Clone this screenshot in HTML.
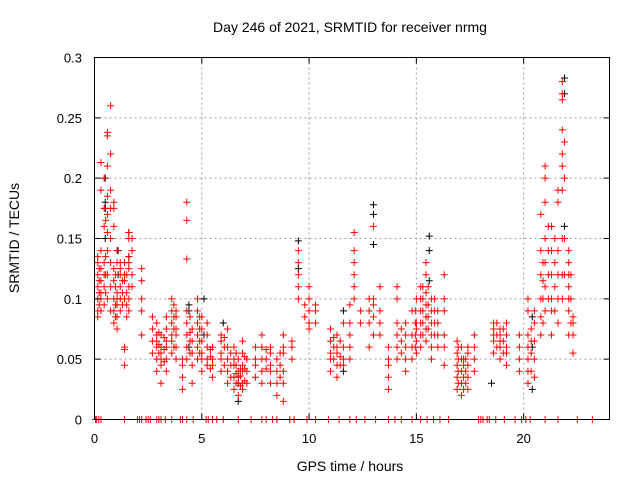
<!DOCTYPE html>
<html><head><meta charset="utf-8"><style>
html,body{margin:0;padding:0;background:#fff;}
svg{display:block;font-family:"Liberation Sans",sans-serif;}
</style></head><body>
<svg id="chart" width="640" height="480" viewBox="0 0 640 480">
<g id="grid"></g>
<g id="marks"></g>
<rect x="94.5" y="57.5" width="515" height="362" fill="none" stroke="#000" stroke-width="1"/>
<g id="axes"></g>
<text x="350" y="32" font-size="14" text-anchor="middle">Day 246 of 2021, SRMTID for receiver nrmg</text>
<text x="350" y="471" font-size="14" text-anchor="middle">GPS time / hours</text>
<text transform="translate(19,238) rotate(-90)" font-size="14" text-anchor="middle">SRMTID / TECUs</text>
</svg>
<script>
const xTicks=[0,5,10,15,20];
const yTicks=[0,0.05,0.1,0.15,0.2,0.25,0.3];
const yTickLabels=["0","0.05","0.1","0.15","0.2","0.25","0.3"];
const redTimes=[0.15,0.3,0.45,0.6,0.75,0.9,1.05,1.2,1.4,1.6,1.75,2.2,2.7,2.9,3.1,3.35,3.6,3.8,4.1,4.3,4.55,4.8,5.0,5.25,5.5,5.9,6.2,6.5,6.7,6.9,7.1,7.5,7.8,8.2,8.5,8.8,9.2,9.5,9.8,10.0,10.3,11.0,11.3,11.6,11.9,12.1,12.4,12.8,13.0,13.3,13.7,14.1,14.5,14.8,15.0,15.2,15.45,15.7,16.0,16.3,16.9,17.1,17.4,17.7,18.6,18.9,19.2,19.8,20.2,20.5,20.8,21.0,21.3,21.6,21.8,22.1,22.3,
0.22,0.52,0.98,1.3,1.5,3.0,3.25,3.7,4.45,4.9,5.4,6.05,6.35,6.6,6.8,7.0,8.0,8.65,11.15,11.45,14.3,14.95,15.3,15.55,15.85,16.95,17.2,17.3,18.75,19.05,20.35,20.9,21.15,21.45,21.9,22.2];
const redValues=[
[.085,.09,.10,.11,.12,.13,.135],
[.09,.10,.105,.115,.125,.14,.19,.213],
[.095,.11,.12,.13,.16,.175,.20],
[.10,.12,.14,.155,.17,.185,.21,.235,.238],
[.09,.11,.13,.15,.175,.19,.22,.26],
[.08,.09,.10,.115,.125,.16,.175,.18],
[.075,.085,.095,.10,.105,.13,.14],
[.09,.10,.11,.12,.125,.13],
[.045,.058,.06,.10,.115,.12,.13],
[.09,.10,.11,.125,.13,.135,.15,.155],
[.11,.12,.14,.15],
[.07,.09,.10,.115,.125],
[.055,.065,.075,.085],
[.04,.05,.06,.065,.07,.08],
[.03,.045,.05,.055,.06,.07],
[.04,.05,.06,.065,.075,.085],
[.055,.065,.07,.08,.09,.10],
[.05,.06,.07,.075,.085,.09],
[.025,.035,.045,.05],
[.05,.06,.07,.08,.09,.133,.165,.18],
[.03,.045,.055,.065,.075],
[.05,.06,.07,.08,.09,.10],
[.04,.05,.055,.065,.075,.085],
[.045,.05,.06,.07,.08],
[.035,.045,.05,.06],
[.04,.05,.055,.065,.07],
[.03,.04,.05,.06,.075],
[.025,.035,.045,.05,.06],
[.02,.03,.035,.04,.05],
[.025,.03,.04,.045,.055,.065],
[.03,.04,.05],
[.035,.045,.05,.06],
[.03,.04,.05,.06,.07],
[.03,.04,.045,.055,.06],
[.02,.03,.04,.05],
[.015,.03,.04,.055,.06,.07],
[.05,.06,.065],
[.10,.11,.12,.13,.14],
[.085,.095],
[.075,.08,.09,.10,.11],
[.08,.09,.095],
[.04,.05,.055,.065,.075],
[.035,.045,.055,.06,.07],
[.045,.05,.06,.08],
[.05,.06,.07,.08,.095],
[.10,.11,.12,.13,.14,.155],
[.08,.09],
[.06,.08,.09,.10],
[.07,.085,.095,.10,.16],
[.07,.08,.09,.11],
[.025,.035,.045,.05,.06],
[.05,.06,.07,.08,.10,.11],
[.04,.05,.06,.07,.08],
[.05,.06,.07,.09],
[.055,.065,.075,.08,.10],
[.06,.07,.08,.09,.10,.11],
[.065,.075,.085,.095,.105,.12,.13],
[.05,.06,.07,.08,.09,.10],
[.06,.07,.08,.09],
[.045,.06,.07,.09,.10,.12],
[.025,.035,.045,.055,.065],
[.02,.03,.04,.05,.06],
[.025,.035,.045,.055,.06],
[.04,.05,.06,.07],
[.055,.065,.07,.075,.08],
[.05,.06,.065,.07,.075],
[.045,.055,.06,.07,.08],
[.04,.05,.06,.07],
[.03,.04,.05,.06,.07,.09,.10],
[.035,.05,.065,.08,.09],
[.07,.085,.10,.12,.14,.17],
[.09,.11,.13,.15,.18,.20,.21],
[.07,.09,.10,.12,.14,.16],
[.08,.10,.12,.14,.18,.19],
[.10,.12,.15,.19,.21,.22,.24,.265,.27,.28],
[.07,.09,.10,.11,.12,.13,.14],
[.055,.07,.08,.085],
[.095,.105,.115,.125],
[.105,.12,.135,.165],
[.085,.095,.11,.12],
[.095,.105,.115],
[.085,.095,.105,.12],
[.055,.062,.072],
[.048,.058,.068],
[.06,.075,.085,.095],
[.055,.065,.072,.085],
[.055,.065,.075,.085],
[.042,.052,.058],
[.045,.06,.068],
[.035,.045,.055],
[.03,.038,.045,.055],
[.028,.036,.042],
[.032,.042,.052],
[.042,.05,.058],
[.035,.045,.055],
[.05,.06,.068],
[.045,.052,.065],
[.055,.065,.075],
[.06,.07,.08,.09],
[.07,.08,.09,.1,.11],
[.075,.085,.095,.11],
[.07,.08,.09,.1],
[.03,.04,.05,.06],
[.025,.035,.045,.05],
[.03,.04,.05],
[.06,.07,.08],
[.055,.065,.075],
[.04,.055,.065,.075],
[.08,.1,.115,.13],
[.10,.12,.14,.16],
[.09,.11,.13,.15],
[.12,.15,.2,.23],
[.08,.1,.12]];
const blackTimes=[0.5,1.1,1.6,4.4,5.1,6.0,6.7,9.5,11.6,13.0,15.6,18.5,20.4,21.9];
const blackValues=[[.15,.175,.18,.20],[.12,.14],[.135,.155],[.06,.09,.095],[.07,.10],[.08],[.015,.03],[.125,.148],[.04,.09],[.145,.17,.178],[.115,.14,.152],[.03],[.025,.06,.085],[.16,.27,.283]];
const zeroTimes=[0.05,0.1,0.2,0.3,1.4,2.0,2.1,2.2,2.4,2.5,2.6,2.9,3.0,3.1,3.3,3.6,4.0,4.1,4.3,4.6,5.2,5.3,5.5,5.7,6.0,6.7,7.3,7.8,8.0,8.3,8.5,9.1,9.3,9.9,10.3,10.9,11.4,11.9,12.2,12.6,13.1,13.7,14.0,14.3,14.8,15.2,15.5,15.8,16.1,16.5,17.9,18.0,18.1,18.3,18.4,18.7,19.1,19.6,19.9,20.1,20.3,21.0,21.6,22.5,23.2];

const NS="http://www.w3.org/2000/svg";
const X0=94.5,X1=609.5,Y0=419.5,Y1=57.5;
function xs(t){return X0+t/24*(X1-X0);}
function ys(v){return Y0-v/0.3*(Y0-Y1);}
function mk(tag,attrs,parent){const e=document.createElementNS(NS,tag);for(const k in attrs)e.setAttribute(k,attrs[k]);parent.appendChild(e);return e;}
const grid=document.getElementById('grid'),axes=document.getElementById('axes'),marks=document.getElementById('marks');
xTicks.forEach(t=>{
  const x=xs(t);
  if(t>0){const g=mk('line',{x1:x,x2:x,y1:Y1,y2:Y0,stroke:'#a0a0a0','stroke-dasharray':'2,3'},grid);
  
  }
  const a=mk('path',{d:`M${x},${Y0}v-6M${x},${Y1}v6`,stroke:'#000'},axes);
  
  
  const l=mk('text',{x:x,y:443,'font-size':13,'text-anchor':'middle'},axes);l.textContent=String(t);
  
  
});
yTicks.forEach((v,i)=>{
  const y=ys(v);
  if(v>0&&v<0.3){const g=mk('line',{x1:X0,x2:X1,y1:y,y2:y,stroke:'#a0a0a0','stroke-dasharray':'2,3'},grid);
  
  }
  const a=mk('path',{d:`M${X0},${y}h6M${X1},${y}h-6`,stroke:'#000'},axes);
  
  
  const l=mk('text',{x:82,y:y+5,'font-size':13,'text-anchor':'end'},axes);l.textContent=yTickLabels[i];
  
  
});
function plus(t,v,color,name){
  const x=xs(t),y=ys(v);
  const p=mk('path',{d:`M${x-3.5},${y}h7M${x},${y-3.5}v7`,stroke:color,'stroke-width':1},marks);
  
  
}
blackTimes.forEach((t,i)=>blackValues[i].forEach(v=>plus(t,v,'#000','black-point')));
redTimes.forEach((t,i)=>redValues[i].forEach(v=>plus(t,v,'#ff0000','red-point')));
zeroTimes.forEach(t=>plus(t,0,'#ff0000','zero-point'));
</script>
</body></html>
